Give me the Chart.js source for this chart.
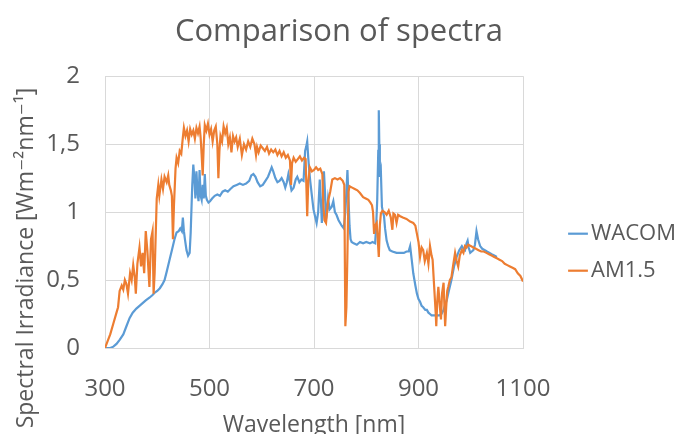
<!DOCTYPE html>
<html>
<head>
<meta charset="utf-8">
<script src="https://cdn.jsdelivr.net/npm/chart.js@4"></script>
<style>
  body { margin: 0; background: #fff; }
</style>
</head>
<body>
<canvas id="spectraChart" width="678" height="434"></canvas>
<script>
// AM1.5 reference spectrum (orange)
const am15Wavelengths = [
  300, 305, 310, 316, 322, 325, 328, 332, 335, 338,
  341, 344, 348, 351, 354, 357, 359, 362, 366, 369,
  372, 375, 378, 381, 385, 388, 391, 393, 395, 399,
  402, 404, 408, 411, 414, 418, 421, 423, 426, 428,
  430, 432, 435, 437, 440, 443, 446, 449, 451, 454,
  457, 460, 463, 466, 469, 472, 475, 478, 481, 483,
  485, 487, 489, 491, 494, 497, 500, 503, 506, 509,
  512, 515, 517, 519, 521, 524, 527, 530, 533, 536,
  539, 542, 545, 548, 551, 554, 558, 562, 566, 570,
  574, 578, 582, 586, 589, 591, 594, 598, 602, 606,
  610, 614, 618, 622, 626, 630, 634, 638, 642, 646,
  650, 654, 656, 658, 661, 665, 669, 673, 677, 681,
  684, 687, 689, 692, 696, 700, 704, 708, 712, 716,
  718, 720, 723, 727, 731, 735, 740, 745, 750, 755,
  758, 760, 762, 764, 766, 768, 773, 778, 783, 788,
  794, 799, 804, 808, 811, 813, 815, 817, 820, 822,
  824, 826, 828, 831, 835, 839, 843, 847, 850, 852,
  855, 858, 861, 865, 870, 877, 884, 890, 894, 897,
  900, 903, 906, 909, 912, 916, 919, 922, 925, 927,
  930, 933, 934, 936, 938, 941, 943, 945, 948, 951,
  953, 955, 957, 960, 963, 966, 970, 973, 976, 979,
  983, 986, 989, 992, 995, 1000, 1005, 1010, 1015, 1020,
  1025, 1030, 1035, 1040, 1045, 1050, 1055, 1060, 1065, 1070,
  1075, 1080, 1085, 1090, 1095, 1100
];
const am15Values = [
  0, 0.05, 0.10, 0.18, 0.26, 0.30, 0.42, 0.46, 0.43, 0.50,
  0.47, 0.40, 0.55, 0.50, 0.61, 0.52, 0.40, 0.62, 0.74, 0.60,
  0.70, 0.55, 0.86, 0.72, 0.45, 0.80, 0.86, 0.40, 0.55, 1.10,
  1.20, 1.12, 1.24, 1.17, 1.26, 1.22, 1.27, 1.20, 1.16, 1.12,
  0.80, 1.05, 1.32, 1.40, 1.36, 1.45, 1.43, 1.55, 1.62, 1.56,
  1.60, 1.52, 1.61, 1.57, 1.60, 1.54, 1.62, 1.58, 1.63, 1.55,
  1.42, 1.27, 1.50, 1.64, 1.60, 1.65, 1.57, 1.61, 1.52, 1.60,
  1.63, 1.50, 1.25, 1.45, 1.56, 1.52, 1.63, 1.58, 1.62, 1.50,
  1.55, 1.44, 1.56, 1.52, 1.55, 1.48, 1.54, 1.42, 1.50, 1.46,
  1.52, 1.48, 1.54, 1.50, 1.42, 1.48, 1.44, 1.49, 1.47, 1.45,
  1.48, 1.43, 1.46, 1.44, 1.46, 1.42, 1.45, 1.41, 1.44, 1.40,
  1.42, 1.38, 1.20, 1.36, 1.40, 1.37, 1.39, 1.41, 1.38, 1.40,
  1.39, 0.97, 1.22, 1.33, 1.30, 1.31, 1.33, 1.31, 1.32, 1.28,
  1.05, 0.94, 0.92, 1.08, 1.15, 1.24, 1.25, 1.24, 1.25, 1.23,
  1.20, 0.16, 0.30, 0.70, 1.15, 1.19, 1.18, 1.17, 1.16, 1.14,
  1.11, 1.10, 1.09, 1.07, 1.05, 1.00, 0.84, 0.90, 0.92, 0.80,
  0.67, 0.90, 0.99, 1.01, 1.00, 0.98, 1.01, 0.96, 0.87, 0.99,
  0.98, 0.92, 0.98, 0.97, 0.96, 0.95, 0.93, 0.92, 0.90, 0.84,
  0.78, 0.67, 0.74, 0.72, 0.64, 0.70, 0.62, 0.75, 0.68, 0.65,
  0.45, 0.25, 0.16, 0.35, 0.45, 0.30, 0.21, 0.40, 0.48, 0.16,
  0.30, 0.42, 0.45, 0.50, 0.52, 0.60, 0.70, 0.64, 0.60, 0.68,
  0.72, 0.70, 0.75, 0.74, 0.76, 0.75, 0.74, 0.73, 0.72, 0.71,
  0.71, 0.70, 0.69, 0.68, 0.67, 0.66, 0.65, 0.64, 0.62, 0.61,
  0.60, 0.59, 0.58, 0.55, 0.53, 0.49
];

// WACOM simulator spectrum (blue)
const wacomWavelengths = [
  300, 305, 310, 316, 322, 328, 335, 341, 347, 353,
  360, 366, 372, 378, 385, 391, 396, 400, 405, 410,
  414, 418, 423, 428, 433, 437, 441, 444, 447, 449,
  451, 453, 456, 459, 462, 464, 467, 469, 471, 473,
  475, 477, 479, 481, 483, 485, 487, 489, 491, 493,
  495, 498, 501, 505, 510, 515, 520, 525, 530, 535,
  540, 546, 552, 558, 564, 570, 576, 580, 584, 588,
  592, 597, 602, 607, 612, 616, 619, 622, 626, 630,
  634, 638, 642, 645, 648, 651, 654, 657, 661, 665,
  668, 672, 676, 680, 683, 685, 687, 689, 691, 693,
  696, 699, 702, 705, 708, 711, 713, 715, 717, 719,
  721, 723, 725, 727, 730, 734, 737, 740, 743, 747,
  750, 753, 757, 760, 762, 764, 766, 768, 770, 772,
  776, 782, 788, 794, 800, 807, 812, 817, 819, 821,
  823, 824, 825, 826, 828, 830, 832, 834, 836, 839,
  842, 845, 850, 858, 866, 872, 877, 881, 884, 887,
  890, 894, 897, 900, 903, 906, 909, 913, 916, 919,
  922, 925, 930, 935, 940, 944, 948, 951, 954, 958,
  963, 968, 973, 978, 983, 986, 989, 992, 994, 996,
  999, 1002, 1005, 1008, 1011, 1014, 1018, 1022, 1027, 1031,
  1036, 1040, 1045, 1050
];
const wacomValues = [
  0, 0, 0, 0.01, 0.03, 0.06, 0.10, 0.16, 0.22, 0.26,
  0.29, 0.31, 0.33, 0.35, 0.37, 0.39, 0.41, 0.42, 0.44, 0.47,
  0.50, 0.56, 0.64, 0.72, 0.80, 0.85, 0.86, 0.88, 0.86, 0.96,
  0.86, 0.80, 0.72, 0.68, 0.70, 0.85, 1.20, 1.35, 1.25, 1.10,
  1.30, 1.15, 1.08, 1.31, 1.12, 1.09, 1.20, 1.10, 1.28, 1.12,
  1.09, 1.07, 1.08, 1.10, 1.12, 1.13, 1.12, 1.15, 1.16, 1.15,
  1.17, 1.19, 1.20, 1.21, 1.20, 1.21, 1.23, 1.27, 1.28, 1.26,
  1.22, 1.19, 1.20, 1.23, 1.26, 1.30, 1.33, 1.30, 1.25, 1.22,
  1.23, 1.25, 1.22, 1.18, 1.22, 1.28, 1.22, 1.16, 1.18, 1.24,
  1.26, 1.22, 1.24, 1.23, 1.45, 1.48, 1.52, 1.40, 1.30, 1.22,
  1.12, 1.02, 0.97, 0.92, 1.00, 1.24, 1.10, 0.92, 1.05, 1.30,
  1.15, 0.95, 1.00, 1.10, 1.02, 1.04, 1.08, 1.00, 0.98, 0.94,
  0.92, 0.90, 0.88, 1.00, 1.15, 1.31, 1.10, 0.90, 0.80, 0.78,
  0.77, 0.76, 0.78, 0.77, 0.78, 0.77, 0.78, 0.77, 0.90, 1.09,
  1.45, 1.75, 1.50, 1.26, 1.30, 1.04, 1.00, 0.97, 0.88, 0.79,
  0.75, 0.72, 0.71, 0.70, 0.70, 0.70, 0.71, 0.71, 0.75, 0.65,
  0.55, 0.46, 0.40, 0.36, 0.34, 0.31, 0.30, 0.28, 0.28, 0.26,
  0.25, 0.24, 0.24, 0.24, 0.24, 0.25, 0.28, 0.32, 0.35, 0.42,
  0.50, 0.60, 0.67, 0.72, 0.75, 0.73, 0.72, 0.77, 0.79, 0.74,
  0.70, 0.71, 0.72, 0.76, 0.86, 0.80, 0.75, 0.73, 0.72, 0.71,
  0.70, 0.69, 0.68, 0.67
];

const seriesNames = ["WACOM", "AM1.5"];
const xTicks = [300, 500, 700, 900, 1100];
const yTicks = [0, 0.5, 1, 1.5, 2];

const textColor = "#595959";
const gridColor = "#d9d9d9";
const fontFamily = '"Open Sans", "DejaVu Sans", sans-serif';

function toPoints(xs, ys) {
  return xs.map((x, i) => ({ x: x, y: ys[i] }));
}

// y axis title is drawn by hand so it can sit lower than the plot centre
const yTitlePlugin = {
  id: "yTitle",
  afterDraw(chart) {
    const ctx = chart.ctx;
    ctx.save();
    ctx.font = "23px " + fontFamily;
    ctx.fillStyle = textColor;
    ctx.textAlign = "center";
    ctx.textBaseline = "middle";
    ctx.translate(26, 258);
    ctx.rotate(-Math.PI / 2);
    ctx.fillText("Spectral Irradiance [Wm\u207B\u00B2nm\u207B\u00B9]", 0, 0);
    ctx.restore();
  },
};

new Chart(document.getElementById("spectraChart"), {
  type: "line",
  data: {
    datasets: [
      {
        label: seriesNames[0],
        data: toPoints(wacomWavelengths, wacomValues),
        borderColor: "#5B9BD5",
        backgroundColor: "#5B9BD5",
        borderWidth: 2.2,
        pointRadius: 0,
        pointStyle: "line",
        order: 1,
      },
      {
        label: seriesNames[1],
        data: toPoints(am15Wavelengths, am15Values),
        borderColor: "#ED7D31",
        backgroundColor: "#ED7D31",
        borderWidth: 2.2,
        pointRadius: 0,
        pointStyle: "line",
        order: 0,
      },
    ],
  },
  options: {
    responsive: false,
    animation: false,
    layout: { padding: 0 },
    plugins: {
      title: {
        display: true,
        text: "Comparison of spectra",
        color: textColor,
        font: { family: fontFamily, size: 31, weight: "normal" },
        padding: { top: 14, bottom: 25 },
      },
      legend: {
        position: "right",
        maxWidth: 117,
        title: { display: true, text: " ", padding: { top: 0, bottom: 56 } },
        labels: {
          usePointStyle: true,
          boxWidth: 4,
          boxHeight: 14,
          padding: 15,
          color: textColor,
          font: { family: fontFamily, size: 22 },
          sort: (a, b) => a.datasetIndex - b.datasetIndex,
        },
      },
      tooltip: { enabled: false },
    },
    scales: {
      x: {
        type: "linear",
        min: xTicks[0],
        max: xTicks[xTicks.length - 1],
        afterBuildTicks(scale) {
          scale.ticks = xTicks.map((v) => ({ value: v }));
        },
        afterFit(scale) {
          scale.height = 86;
        },
        grid: { color: gridColor, drawTicks: false },
        border: { color: gridColor },
        ticks: {
          color: textColor,
          font: { family: fontFamily, size: 24 },
          padding: 27,
          maxRotation: 0,
          callback: (v) => String(v),
        },
        title: {
          display: true,
          text: "Wavelength [nm]",
          color: textColor,
          font: { family: fontFamily, size: 23 },
          padding: { top: 0, bottom: -5 },
        },
      },
      y: {
        min: yTicks[0],
        max: yTicks[yTicks.length - 1],
        afterBuildTicks(scale) {
          scale.ticks = yTicks.map((v) => ({ value: v }));
        },
        afterFit(scale) {
          scale.width = 105;
        },
        grid: { color: gridColor, drawTicks: false },
        border: { color: gridColor },
        ticks: {
          color: textColor,
          font: { family: fontFamily, size: 24 },
          padding: 25,
          callback: (v) => String(v).replace(".", ","),
        },
      },
      // empty box between the plot and the legend
      gap: {
        axis: "y",
        position: "right",
        grid: { display: false },
        border: { display: false },
        ticks: { display: false },
        afterFit(scale) {
          scale.width = 38;
        },
      },
    },
  },
  plugins: [yTitlePlugin],
});
</script>
</body>
</html>
